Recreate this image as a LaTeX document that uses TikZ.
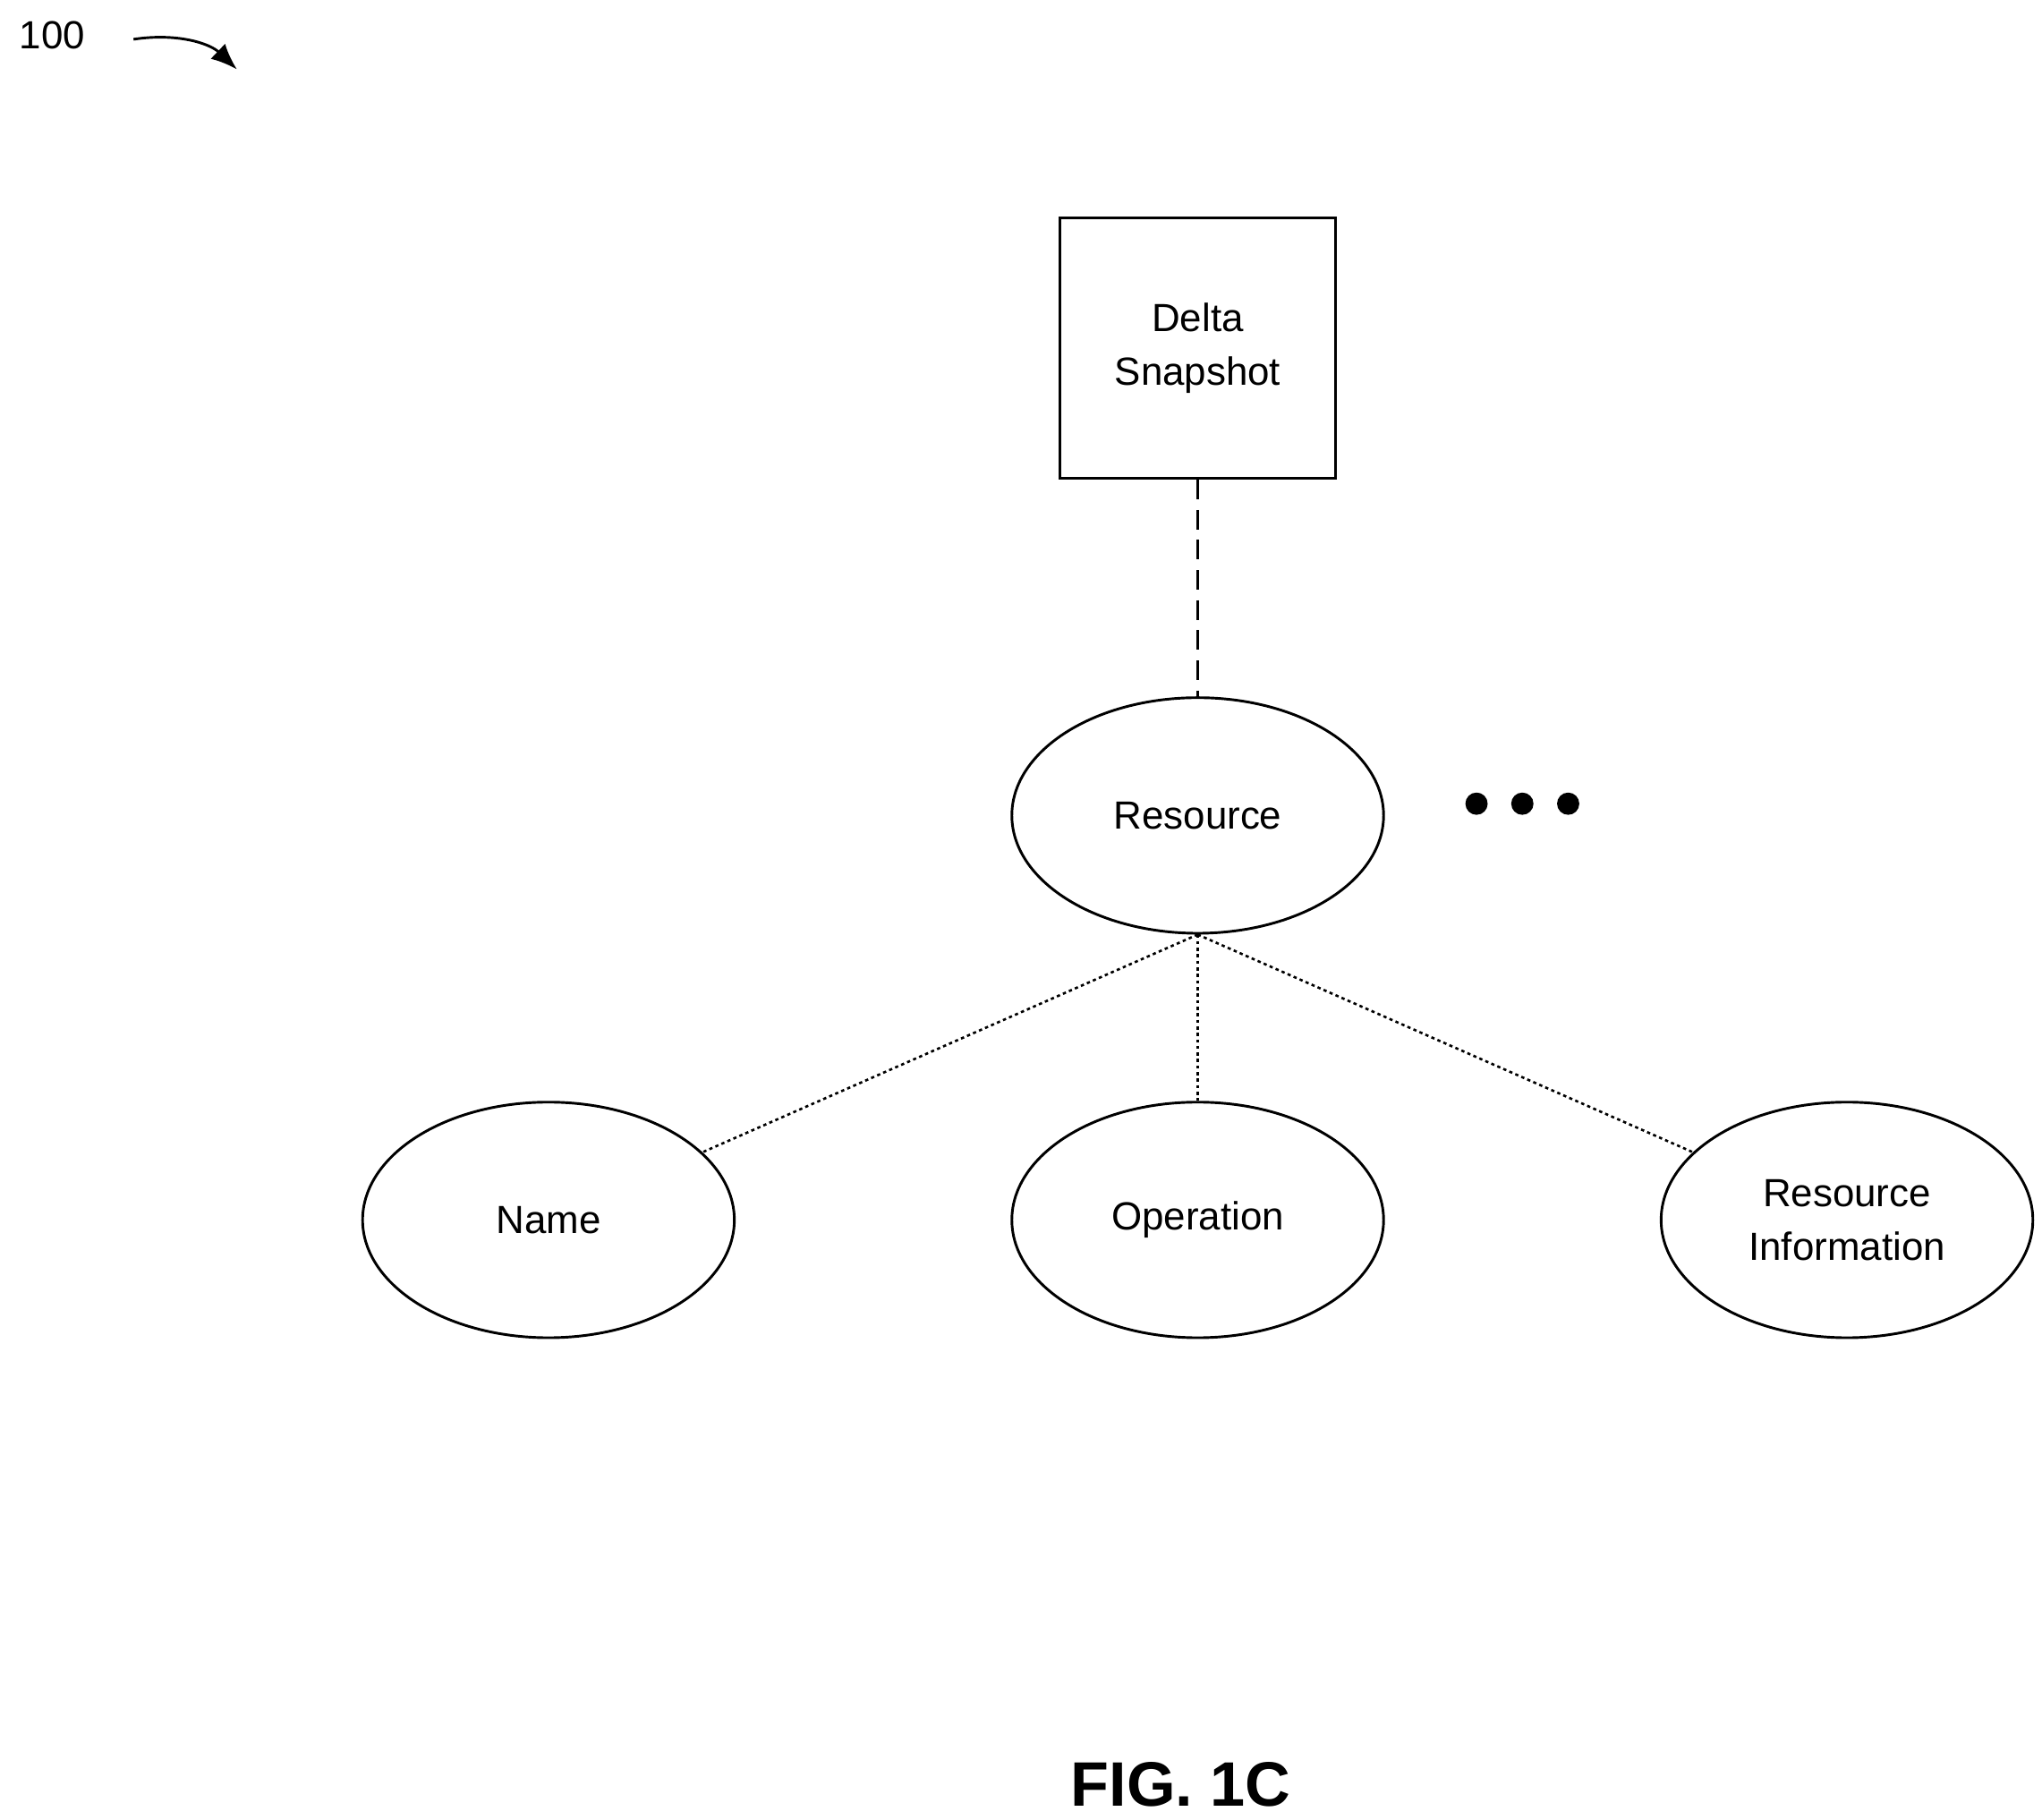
\documentclass[tikz,border=0pt]{standalone}
\usepackage{fontspec}
\setmainfont{Liberation Sans}
\usetikzlibrary{shapes.geometric,arrows.meta}
\begin{document}
\begin{tikzpicture}[x=1pt,y=-1pt,line width=2pt,
  ell/.style={ellipse,draw,minimum width=284pt,minimum height=180pt,inner sep=0pt,align=center,font=\fontsize{30}{41}\selectfont},
  dotl/.style={line width=1.8pt,dash pattern=on 2.5pt off 2.5pt},
  dashl/.style={line width=1.8pt,dash pattern=on 15pt off 8pt}]
\useasboundingbox (0,0) rectangle (1560,1390);
\node[font=\fontsize{30}{36}\selectfont] (lbl) at (40,27) {100};
\coordinate (a1) at (102,30);
\coordinate (a2) at (181,53);
\draw[-{Latex[length=20pt,width=16pt]}] (a1) .. controls (135,25) and (160,33) .. (a2);
\node[draw,minimum width=210pt,minimum height=199pt,align=center,font=\fontsize{30}{41}\selectfont] (ds) at (915,266) {Delta\\Snapshot};
\node[ell] (res) at (915,623) {Resource};
\node[ell] (name) at (419,932) {Name};
\node[ell] (op) at (915,932) {Operation};
\node[ell] (ri) at (1411,932) {Resource\\Information};
\draw[dashl] (ds.south) -- (res.north);
\draw[dotl] (res.south) -- (name);
\draw[dotl] (res.south) -- (op.north);
\draw[dotl] (res.south) -- (ri);
\foreach \i/\x in {1/1128,2/1163,3/1198} \fill (\x,614) circle (8.5pt);
\node[font=\bfseries\fontsize{48}{56}\selectfont] (fig) at (902,1363) {FIG. 1C};
\end{tikzpicture}
\end{document}
